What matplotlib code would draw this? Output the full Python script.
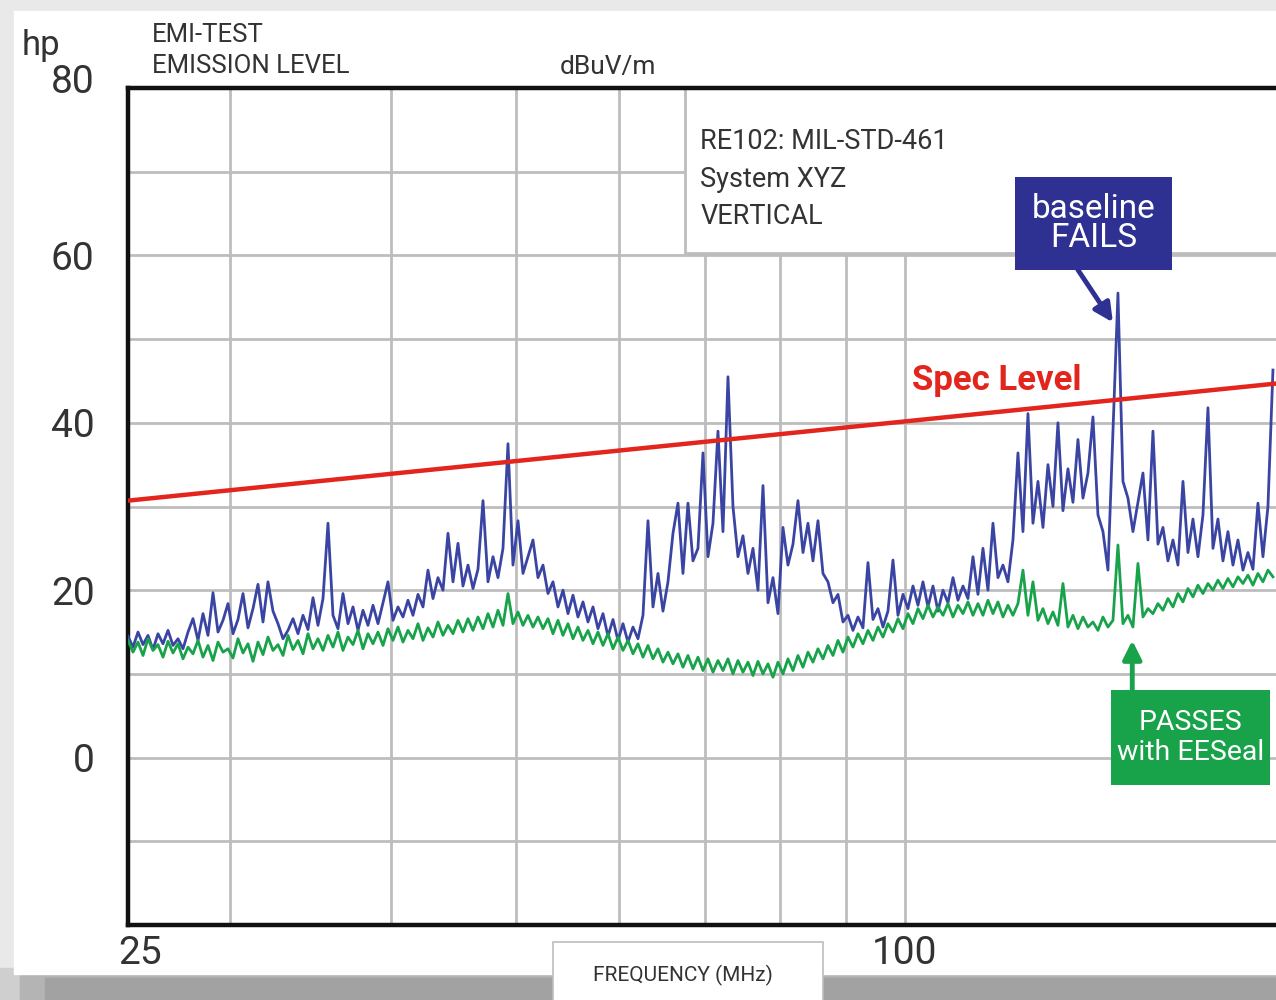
import numpy as np
import matplotlib.pyplot as plt
from matplotlib.patches import Rectangle
from matplotlib.ticker import NullFormatter
from matplotlib.transforms import ScaledTranslation

plt.rcParams['font.family'] = ['Roboto', 'DejaVu Sans']

# RE102 sweep, 25 MHz .. ~193 MHz, levels in dBuV/m
baseline_db = [
    14.5, 13.2, 15.0, 13.5, 14.6, 12.9, 14.8, 13.6, 15.2, 13.4,
    14.2, 13.0, 15.0, 16.6, 14.0, 17.2, 14.6, 19.7, 15.0, 16.4,
    18.4, 14.8, 16.5, 19.6, 15.5, 17.8, 20.7, 16.2, 21.0, 17.5,
    16.0, 14.2, 15.2, 16.6, 14.8, 17.0, 15.3, 19.1, 15.8, 19.0,
    28.0, 17.0, 15.4, 19.6, 16.0, 18.0, 15.2, 17.6, 15.8, 18.2,
    16.0, 18.5, 21.0, 16.4, 18.0, 16.8, 18.8, 17.0, 19.5, 18.0,
    22.4, 19.0, 21.5, 20.0, 26.8, 21.0, 25.6, 20.5, 23.0, 20.2,
    22.5, 30.7, 21.0, 24.0, 21.5, 25.0, 37.5, 23.0, 28.3, 22.0,
    24.0, 26.0, 21.5, 23.0, 19.6, 21.0, 18.0, 20.0, 17.2, 19.4,
    16.8, 18.6, 16.2, 18.0, 15.4, 17.2, 14.5, 16.5, 14.0, 16.0,
    13.8, 15.6, 14.2, 17.0, 28.3, 18.0, 22.0, 17.5, 21.0, 26.8,
    30.4, 22.0, 30.4, 23.5, 25.0, 36.4, 24.0, 28.0, 39.0, 27.0,
    45.5, 30.0, 24.0, 26.5, 22.0, 25.0, 20.0, 32.5, 18.5, 21.5,
    17.2, 27.5, 23.0, 25.5, 30.7, 24.5, 28.0, 23.5, 28.3, 22.0,
    21.0, 18.5, 19.5, 16.2, 17.0, 15.2, 16.8, 15.5, 23.3, 16.5,
    17.8, 15.6, 17.5, 23.6, 17.0, 19.5, 17.8, 20.5, 18.2, 21.0,
    18.0, 20.5, 17.5, 20.0, 18.5, 21.5, 18.8, 20.5, 19.0, 24.0,
    19.5, 25.0, 20.0, 28.0, 21.5, 23.0, 21.0, 26.0, 36.4, 27.0,
    41.1, 28.0, 33.0, 27.5, 35.0, 30.0, 40.0, 29.5, 34.5, 30.5,
    38.0, 31.0, 34.0, 40.7, 29.0, 27.0, 22.4, 39.0, 55.5, 33.0,
    31.0, 27.0, 30.5, 34.0, 26.0, 39.0, 25.5, 27.5, 23.5, 26.0,
    23.0, 33.0, 24.5, 28.5, 24.0, 29.0, 41.8, 25.0, 28.5, 23.5,
    27.0, 23.0, 26.0, 22.4, 24.5, 22.5, 30.4, 24.0, 30.0, 46.3,
]

eeseal_db = [
    14.0, 12.6, 13.8, 12.2, 14.2, 12.8, 13.5, 12.0, 13.9, 12.5,
    13.6, 11.8, 13.2, 12.4, 14.0, 12.0, 13.4, 11.6, 13.8, 12.6,
    13.0, 11.9, 14.2, 12.5, 13.6, 11.5, 13.8, 12.3, 14.4, 12.8,
    13.5, 12.2, 14.6, 12.9, 14.0, 12.4, 14.8, 13.0, 14.2, 12.8,
    14.6, 13.2, 15.0, 12.8, 14.4, 13.5, 15.2, 13.0, 14.8, 13.6,
    15.0, 13.4, 15.4, 14.0, 15.6, 13.8, 15.2, 14.2, 16.0, 14.0,
    15.5, 14.4, 16.2, 14.6, 15.8, 14.8, 16.4, 15.0, 16.6, 15.2,
    16.8, 15.4, 17.2, 15.6, 17.6, 15.8, 19.6, 16.0, 17.4, 15.8,
    17.0, 15.6, 16.8, 15.4, 16.6, 14.8, 16.4, 14.6, 16.0, 14.2,
    15.6, 14.0, 15.2, 13.6, 15.0, 13.4, 14.8, 13.0, 14.4, 12.8,
    14.0, 12.4, 13.6, 12.0, 13.4, 11.8, 13.0, 11.4, 12.6, 11.2,
    12.4, 10.8, 12.2, 10.6, 12.0, 10.4, 11.8, 10.2, 11.6, 10.4,
    11.8, 10.0, 11.6, 10.2, 11.4, 9.8, 11.5, 10.0, 11.2, 9.6,
    11.4, 10.0, 11.8, 10.4, 12.2, 10.8, 12.6, 11.4, 13.0, 11.8,
    13.4, 12.2, 14.0, 12.6, 14.4, 13.2, 14.8, 13.6, 15.2, 14.0,
    15.6, 14.4, 16.0, 15.0, 16.6, 15.4, 17.2, 16.0, 17.8, 16.6,
    18.2, 16.8, 18.0, 17.0, 18.4, 16.8, 18.2, 17.2, 18.6, 17.0,
    18.4, 17.0, 18.8, 17.2, 18.6, 16.8, 18.2, 17.0, 18.4, 22.4,
    17.0, 21.0, 16.4, 17.8, 16.0, 17.4, 15.8, 20.8, 15.6, 17.0,
    15.4, 16.8, 15.6, 16.2, 15.2, 16.8, 15.6, 16.4, 25.4, 16.0,
    17.0, 15.6, 23.2, 16.8, 17.8, 17.2, 18.4, 17.6, 19.0, 18.0,
    19.6, 18.6, 20.2, 19.2, 20.6, 19.6, 20.8, 20.0, 21.2, 20.2,
    21.4, 20.4, 21.6, 20.8, 21.8, 20.6, 22.0, 21.0, 22.4, 21.6,
]

spec_freq = [25, 200]
spec_db = [30.7, 44.9]

x_ticks = [25, 100]
x_grid = [30, 40, 50, 60, 70, 80, 90]
y_ticks = [0, 20, 40, 60, 80]
y_grid = [-10, 10, 30, 50, 70]

freq = np.geomspace(25, 192.8, len(baseline_db))

NAVY = '#2e3192'
BLUE = '#3a45a3'
GREEN = '#18a34b'
RED = '#e2261e'
INK = '#333333'

fig = plt.figure(figsize=(12.76, 10), dpi=100)
fig.patch.set_facecolor('#e9e9e9')

# page background: white card with a soft shadow underneath
bg = fig.add_axes([0, 0, 1, 1], zorder=-5)
bg.set_xlim(0, 1276)
bg.set_ylim(1000, 0)
bg.axis('off')
bg.add_patch(Rectangle((0, 968), 1276, 32, color='#cfcfcf'))
bg.add_patch(Rectangle((20, 974), 1256, 26, color='#b4b4b4'))
bg.add_patch(Rectangle((45, 978), 1231, 22, color='#a2a2a2'))
bg.add_patch(Rectangle((14, 11), 1270, 963, color='white'))
bg.add_patch(Rectangle((553, 942), 270, 70, facecolor='white',
                       edgecolor='#bdbdbd', lw=1.2, zorder=3))
bg.text(683, 975, 'FREQUENCY (MHz)', ha='center', va='center',
        fontsize=15, color=INK, zorder=4)

ax = fig.add_axes([128 / 1276, 75 / 1000, 1165.5 / 1276, 837 / 1000])
ax.set_facecolor('white')
ax.set_xscale('log')
ax.set_xlim(25, 200)
ax.set_ylim(-20, 80)

ax.set_xticks(x_ticks)
ax.set_xticklabels([str(t) for t in x_ticks])
ax.set_xticks(x_grid, minor=True)
ax.xaxis.set_minor_formatter(NullFormatter())
ax.set_yticks(y_ticks)
ax.set_yticklabels([str(t) for t in y_ticks])
ax.set_yticks(y_grid, minor=True)
ax.tick_params(which='both', length=0, labelsize=28, colors=INK)
ax.tick_params(axis='y', pad=24)
ax.tick_params(axis='x', pad=7)
ax.grid(True, which='both', color='#bdbdbd', lw=2.0)
ax.set_axisbelow(True)

# "25" sits right of its gridline, "80" a little above the top spine
first_label = ax.xaxis.get_major_ticks()[0].label1
first_label.set_transform(first_label.get_transform()
                          + ScaledTranslation(12 / 100, 0, fig.dpi_scale_trans))
top_label = ax.yaxis.get_major_ticks()[-1].label1
top_label.set_transform(top_label.get_transform()
                        + ScaledTranslation(0, 7 / 72, fig.dpi_scale_trans))

for side in ['left', 'bottom', 'top']:
    ax.spines[side].set_color('#111111')
    ax.spines[side].set_linewidth(3.2)
ax.spines['right'].set_visible(False)

# info panel in the top right corner hides the grid behind it
ax.add_patch(Rectangle((0.478, 0.803), 0.6, 0.3, transform=ax.transAxes,
                       facecolor='white', edgecolor='#bdbdbd', lw=2.0,
                       zorder=1, clip_on=True))
ax.text(0.491, 0.891, 'RE102: MIL-STD-461\nSystem XYZ\nVERTICAL',
        transform=ax.transAxes, ha='left', va='center', fontsize=19.5,
        linespacing=1.5, color=INK, zorder=2)

ax.plot(freq, baseline_db, color=BLUE, lw=2.0, zorder=3)
ax.plot(freq, eeseal_db, color=GREEN, lw=2.0, zorder=4)
ax.plot(spec_freq, spec_db, color=RED, lw=3.2, zorder=5)

ax.text(0.673, 0.651, 'Spec Level', transform=ax.transAxes, ha='left',
        va='center', fontsize=25, fontweight='bold', color=RED, zorder=6)

# callout boxes
ax.add_patch(Rectangle((0.7611, 0.7826), 0.1347, 0.1111,
                       transform=ax.transAxes, facecolor=NAVY,
                       edgecolor='none', zorder=7))
ax.text(0.8284, 0.838, 'baseline\nFAILS', transform=ax.transAxes,
        ha='center', va='center', fontsize=24, color='white',
        linespacing=0.88, zorder=8)
ax.annotate('', xy=(144.9, 52.0), xytext=(136.1, 58.3),
            arrowprops=dict(arrowstyle='-|>', color=NAVY, lw=3.5,
                            mutation_scale=28, shrinkA=0, shrinkB=0),
            zorder=6)

ax.add_patch(Rectangle((0.8434, 0.1673), 0.1364, 0.1135,
                       transform=ax.transAxes, facecolor=GREEN,
                       edgecolor='none', zorder=7))
ax.text(0.9116, 0.224, 'PASSES\nwith EESeal', transform=ax.transAxes,
        ha='center', va='center', fontsize=20.5, color='white',
        linespacing=1.1, zorder=8)
ax.annotate('', xy=(150, 14.0), xytext=(150, 8.0),
            arrowprops=dict(arrowstyle='-|>', color=GREEN, lw=3.5,
                            mutation_scale=28, shrinkA=0, shrinkB=0),
            zorder=6)

fig.text(22 / 1276, 1 - 55 / 1000, 'hp', ha='left', va='baseline',
         fontsize=25, color=INK)
fig.text(152 / 1276, 1 - 35 / 1000, 'EMI-TEST', ha='left', va='center',
         fontsize=18.5, color=INK)
fig.text(152 / 1276, 1 - 66 / 1000, 'EMISSION LEVEL', ha='left',
         va='center', fontsize=18.5, color=INK)
fig.text(560 / 1276, 1 - 67 / 1000, 'dBuV/m', ha='left', va='center',
         fontsize=19, color=INK)

fig.savefig('out.png', dpi=100, facecolor=fig.get_facecolor())
